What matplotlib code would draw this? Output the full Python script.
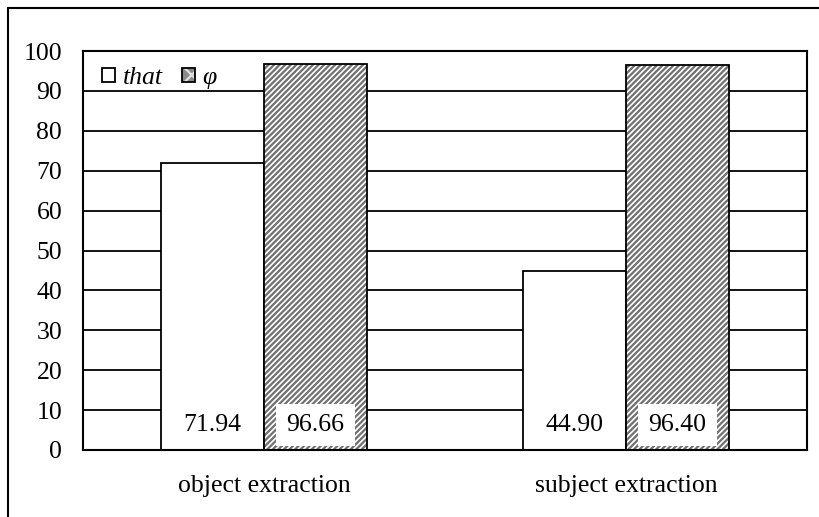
import matplotlib
matplotlib.use("Agg")
import matplotlib.pyplot as plt
from matplotlib.patches import Rectangle, Patch
import numpy as np

categories = ["object extraction", "subject extraction"]
that_values = [71.94, 44.90]
phi_values = [96.66, 96.40]
yticks = [0, 10, 20, 30, 40, 50, 60, 70, 80, 90, 100]

plt.rcParams["font.family"] = ["Liberation Serif", "DejaVu Serif"]
plt.rcParams["hatch.linewidth"] = 1.6

FS = 18.5

fig = plt.figure(figsize=(8.19, 5.17), dpi=100)
ax = fig.add_axes([83 / 819, 1 - 450 / 517, 724 / 819, 399 / 517])

x = np.arange(len(categories))
w = 0.285

ax.set_axisbelow(True)
ax.yaxis.grid(True, color="black", linewidth=1.3)

ax.bar(x - w / 2, that_values, w, color="white", edgecolor="black", linewidth=1.3, zorder=2)
ax.bar(x + w / 2, phi_values, w, color="white", edgecolor="#707070", linewidth=0,
       hatch="//////", zorder=2)
ax.bar(x + w / 2, phi_values, w, fill=False, edgecolor="black", linewidth=1.3, zorder=3)

for xi, v in zip(x - w / 2, that_values):
    ax.text(xi, 6.3, f"{v:.2f}", ha="center", va="center", fontsize=FS, zorder=4)
for xi, v in zip(x + w / 2, phi_values):
    ax.text(xi, 6.3, f"{v:.2f}", ha="center", va="center", fontsize=FS, zorder=4,
            bbox=dict(boxstyle="square,pad=0.4", facecolor="white", edgecolor="none"))

ax.set_xlim(-0.5, 1.5)
ax.set_ylim(0, 100)
ax.set_yticks(yticks)
ax.set_xticks(x)
ax.set_xticklabels(categories)
ax.tick_params(axis="both", length=0, labelsize=FS)
ax.tick_params(axis="x", pad=18)
ax.tick_params(axis="y", pad=15)
for s in ax.spines.values():
    s.set_linewidth(1.5)
    s.set_color("black")

# legend: plain box for "that", grey patterned box for φ
that_handle = Patch(facecolor="white", edgecolor="black", linewidth=1.3)
phi_fill = Patch(facecolor="#8a8a8a", edgecolor="#e0e0e0", linewidth=0, hatch="xx")
phi_edge = Patch(fill=False, edgecolor="black", linewidth=1.3)
leg = ax.legend([that_handle, (phi_fill, phi_edge)], ["that", "φ"],
                loc="upper left", ncol=2, frameon=False,
                prop={"style": "italic", "size": FS}, handlelength=0.5, handleheight=0.5,
                handletextpad=0.3, columnspacing=0.75, borderaxespad=0.0,
                bbox_to_anchor=(0.012, 0.985))

fig.patches.append(Rectangle((8 / 819, -0.1), 1.1, 1 - 8 / 517 + 0.1, transform=fig.transFigure,
                             fill=False, edgecolor="black", linewidth=1.5, zorder=0))

fig.savefig("out.png", dpi=100)
